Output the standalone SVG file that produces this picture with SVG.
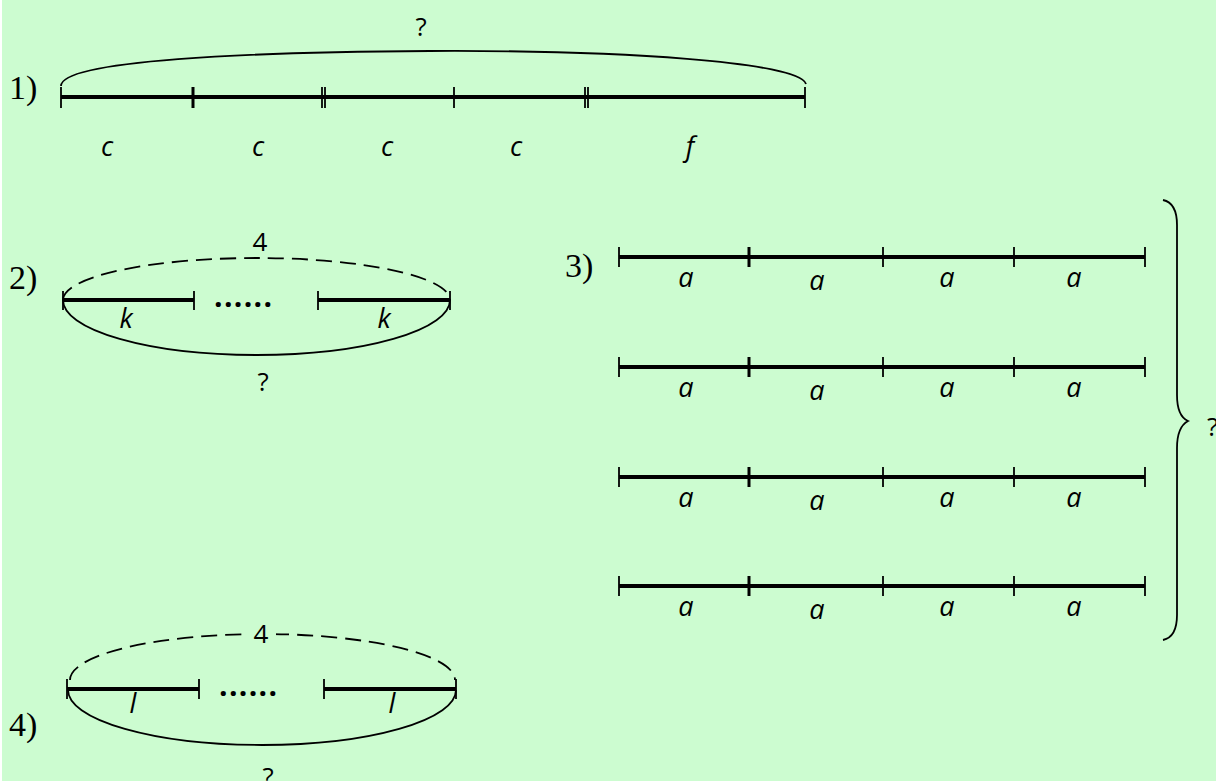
<svg xmlns="http://www.w3.org/2000/svg" width="1216" height="781" viewBox="0 0 1216 781">
<style>
.bar{stroke:#000;stroke-width:4;fill:none}
.tk{stroke:#000;stroke-width:1.8;fill:none}
.tkb{stroke:#000;stroke-width:3;fill:none}
.arc{stroke:#000;stroke-width:1.8;fill:none}
.dash{stroke:#000;stroke-width:1.8;fill:none;stroke-dasharray:16 8}
.num{font-family:"Liberation Serif",serif;font-size:34px;fill:#000}
.lab{font-family:"Open Sans","Noto Sans",sans-serif;font-style:italic;font-size:27px;fill:#000;text-anchor:middle}
.txt{font-family:"Open Sans","Noto Sans",sans-serif;font-size:26px;fill:#000;text-anchor:middle}
.dots{font-family:"Open Sans","Noto Sans",sans-serif;font-weight:bold;font-size:30px;fill:#000}
</style>
<rect x="0" y="0" width="1216" height="781" fill="#ffffff"/>
<rect x="2" y="0" width="1214" height="781" fill="#ccfcd0"/>

<g id="part1">
<text class="num" x="9" y="99">1)</text>
<path class="arc" d="M61,86 C61,60 250,52 430,51 C620,50 800,62 806,84"/>
<text class="txt" x="421" y="36">?</text>
<line class="bar" x1="61" y1="97" x2="805" y2="97"/>
<line class="tk" x1="61" y1="87" x2="61" y2="108"/>
<line class="tkb" x1="193" y1="87" x2="193" y2="108"/>
<line class="tk" x1="322" y1="87" x2="322" y2="108"/>
<line class="tk" x1="325" y1="87" x2="325" y2="108"/>
<line class="tk" x1="454" y1="87" x2="454" y2="108"/>
<line class="tk" x1="585" y1="87" x2="585" y2="108"/>
<line class="tk" x1="588" y1="87" x2="588" y2="108"/>
<line class="tk" x1="805" y1="87" x2="805" y2="108"/>
<text class="lab" x="107" y="156">c</text>
<text class="lab" x="258" y="156">c</text>
<text class="lab" x="387" y="156">c</text>
<text class="lab" x="516" y="156">c</text>
<text class="lab" x="690" y="156">f</text>
</g>

<g id="part2">
<text class="num" x="9" y="289">2)</text>
<path class="dash" d="M63,300 A193.5,42 0 0 1 450,300"/>
<path class="arc" d="M63,300 A193.5,55 0 0 0 450,300"/>
<text class="txt" x="260" y="251">4</text>
<line class="bar" x1="63" y1="300" x2="194" y2="300"/>
<line class="tk" x1="63" y1="291" x2="63" y2="310"/>
<line class="tk" x1="194" y1="291" x2="194" y2="310"/>
<text class="dots" x="214" y="307" textLength="58" lengthAdjust="spacing">......</text>
<line class="bar" x1="318" y1="300" x2="450" y2="300"/>
<line class="tk" x1="318" y1="291" x2="318" y2="310"/>
<line class="tk" x1="450" y1="291" x2="450" y2="310"/>
<text class="lab" x="126" y="328">k</text>
<text class="lab" x="384" y="328">k</text>
<text class="txt" x="263" y="391">?</text>
</g>

<g id="part3">
<text class="num" x="565" y="277">3)</text>
<g id="row1">
<line class="bar" x1="619" y1="257" x2="1145" y2="257"/>
<line class="tk" x1="619" y1="247" x2="619" y2="267"/>
<line class="tkb" x1="749" y1="247" x2="749" y2="267"/>
<line class="tk" x1="883" y1="247" x2="883" y2="267"/>
<line class="tk" x1="1014" y1="247" x2="1014" y2="267"/>
<line class="tk" x1="1145" y1="247" x2="1145" y2="267"/>
<text class="lab" x="686" y="287">a</text>
<text class="lab" x="817" y="290">a</text>
<text class="lab" x="947" y="287">a</text>
<text class="lab" x="1074" y="287">a</text>
</g>
<g id="row2">
<line class="bar" x1="619" y1="367" x2="1145" y2="367"/>
<line class="tk" x1="619" y1="357" x2="619" y2="377"/>
<line class="tkb" x1="749" y1="357" x2="749" y2="377"/>
<line class="tk" x1="883" y1="357" x2="883" y2="377"/>
<line class="tk" x1="1014" y1="357" x2="1014" y2="377"/>
<line class="tk" x1="1145" y1="357" x2="1145" y2="377"/>
<text class="lab" x="686" y="397">a</text>
<text class="lab" x="817" y="400">a</text>
<text class="lab" x="947" y="397">a</text>
<text class="lab" x="1074" y="397">a</text>
</g>
<g id="row3">
<line class="bar" x1="619" y1="477" x2="1145" y2="477"/>
<line class="tk" x1="619" y1="467" x2="619" y2="487"/>
<line class="tkb" x1="749" y1="467" x2="749" y2="487"/>
<line class="tk" x1="883" y1="467" x2="883" y2="487"/>
<line class="tk" x1="1014" y1="467" x2="1014" y2="487"/>
<line class="tk" x1="1145" y1="467" x2="1145" y2="487"/>
<text class="lab" x="686" y="507">a</text>
<text class="lab" x="817" y="510">a</text>
<text class="lab" x="947" y="507">a</text>
<text class="lab" x="1074" y="507">a</text>
</g>
<g id="row4">
<line class="bar" x1="619" y1="586" x2="1145" y2="586"/>
<line class="tk" x1="619" y1="576" x2="619" y2="596"/>
<line class="tkb" x1="749" y1="576" x2="749" y2="596"/>
<line class="tk" x1="883" y1="576" x2="883" y2="596"/>
<line class="tk" x1="1014" y1="576" x2="1014" y2="596"/>
<line class="tk" x1="1145" y1="576" x2="1145" y2="596"/>
<text class="lab" x="686" y="616">a</text>
<text class="lab" x="817" y="619">a</text>
<text class="lab" x="947" y="616">a</text>
<text class="lab" x="1074" y="616">a</text>
</g>
<path class="arc" d="M1163,200 Q1177,203 1177,225 L1177,395 Q1177,416 1188,421 Q1177,427 1177,448 L1177,615 Q1177,637 1163,640"/>
<text class="txt" x="1207" y="436" style="text-anchor:start">?</text>
</g>

<g id="part4">
<text class="num" x="9" y="736">4)</text>
<path class="dash" d="M70,680 A192.5,46 0 0 1 455,680"/>
<rect x="246" y="620" width="30" height="26" fill="#ccfcd0"/>
<text class="txt" x="261" y="643">4</text>
<path class="arc" d="M68,690 A194,55 0 0 0 456,690"/>
<line class="bar" x1="67" y1="689" x2="199" y2="689"/>
<line class="tk" x1="67" y1="679" x2="67" y2="699"/>
<line class="tk" x1="199" y1="679" x2="199" y2="699"/>
<text class="dots" x="219" y="696" textLength="58" lengthAdjust="spacing">......</text>
<line class="bar" x1="324" y1="689" x2="456" y2="689"/>
<line class="tk" x1="324" y1="679" x2="324" y2="699"/>
<line class="tk" x1="456" y1="679" x2="456" y2="699"/>
<text class="lab" x="133" y="713">l</text>
<text class="lab" x="392" y="713">l</text>
<text class="txt" x="268" y="786">?</text>
</g>
</svg>
